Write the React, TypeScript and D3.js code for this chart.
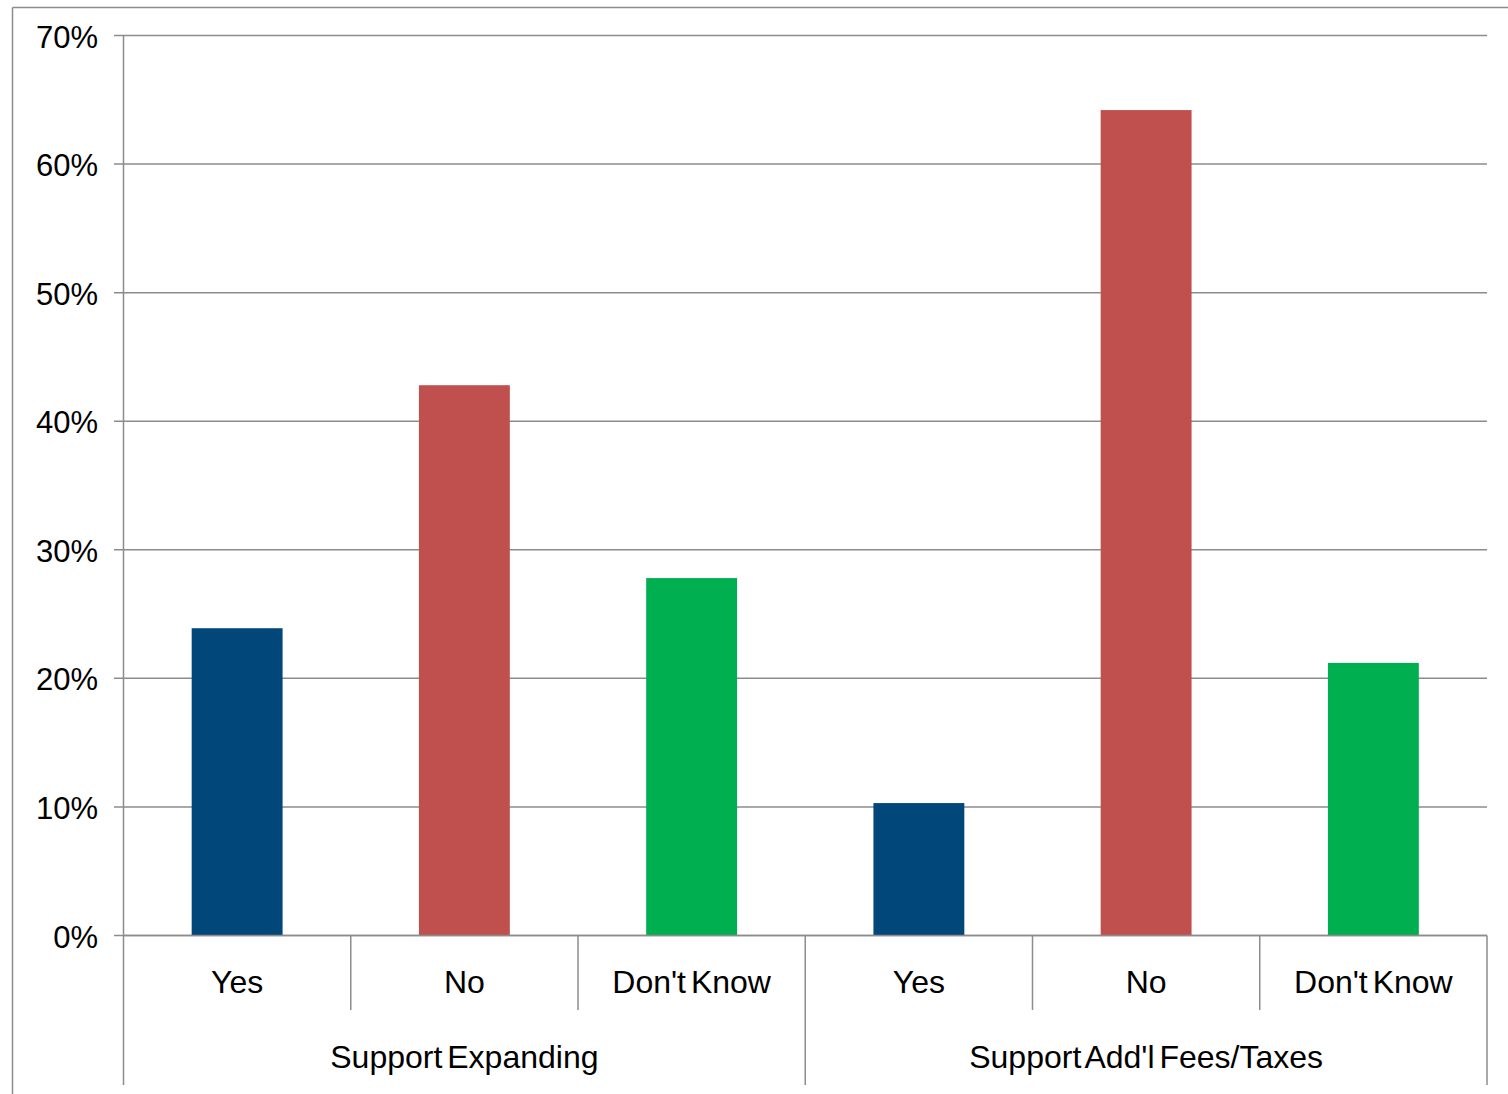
import React from "react";
import * as d3 from "d3";

const groups = ["Support Expanding", "Support Add'l Fees/Taxes"];
const answers = ["Yes", "No", "Don't Know"];
const expandingValues = [23.9, 42.8, 27.8];
const feesValues = [10.3, 64.2, 21.2];
const answerColors = ["#02477A", "#C0504D", "#00B050"];
const yTicks = [0, 10, 20, 30, 40, 50, 60, 70];

const W = 1508;
const H = 1094;
const left = 123.5;
const right = 1487;
const top = 35.5;
const bottom = 935.5;

export default function App() {
  const rows = groups.flatMap((g, gi) =>
    answers.map((a, ai) => ({
      key: `${gi}-${ai}`,
      group: g,
      answer: a,
      value: (gi === 0 ? expandingValues : feesValues)[ai],
      color: answerColors[ai],
    }))
  );

  const y = d3.scaleLinear().domain([0, 70]).range([bottom, top]);
  const x = d3
    .scaleBand<string>()
    .domain(rows.map((r) => r.key))
    .range([left, right])
    .paddingInner(0.6)
    .paddingOuter(0.3);
  const slot = d3.scaleBand<string>().domain(rows.map((r) => r.key)).range([left, right]);
  const gx = d3.scaleBand<string>().domain(groups).range([left, right]);

  const grid = "#8C8C8C";
  const font = "'Liberation Sans', Arial, sans-serif";

  return (
    <svg
      width={W}
      height={H}
      style={{ position: "absolute", left: 0, top: 0, background: "#fff" }}
      fontFamily={font}
    >
      {/* outer chart frame */}
      <line x1={12.5} x2={W} y1={7.5} y2={7.5} stroke={grid} strokeWidth={1.5} />
      <line x1={12.5} x2={12.5} y1={7.5} y2={H} stroke={grid} strokeWidth={1.5} />

      {/* gridlines and y ticks */}
      {yTicks.map((t) => (
        <g key={t}>
          <line x1={114} x2={right} y1={y(t)} y2={y(t)} stroke={grid} strokeWidth={1.5} />
          <text x={98} y={y(t) + 12} textAnchor="end" fontSize={31} fill="#000">
            {t}%
          </text>
        </g>
      ))}

      {/* bars */}
      {rows.map((r) => (
        <rect
          key={r.key}
          x={x(r.key)}
          width={x.bandwidth()}
          y={y(r.value)}
          height={bottom - y(r.value)}
          fill={r.color}
        />
      ))}

      {/* axes */}
      <line x1={left} x2={left} y1={top} y2={1085} stroke={grid} strokeWidth={1.5} />
      <line x1={left} x2={right} y1={bottom} y2={bottom} stroke={grid} strokeWidth={1.5} />

      {/* category separators */}
      {rows.slice(1).map((r, i) => {
        const xs = slot(r.key)!;
        const isGroupEdge = (i + 1) % answers.length === 0;
        return (
          <line
            key={r.key}
            x1={xs}
            x2={xs}
            y1={bottom}
            y2={isGroupEdge ? 1085 : 1010}
            stroke={grid}
            strokeWidth={1.5}
          />
        );
      })}
      <line x1={right} x2={right} y1={bottom} y2={1085} stroke={grid} strokeWidth={1.5} />

      {/* category labels */}
      {rows.map((r) => (
        <text
          key={r.key}
          x={slot(r.key)! + slot.bandwidth() / 2}
          y={993}
          textAnchor="middle"
          fontSize={32}
          wordSpacing={-4}
          fill="#000"
        >
          {r.answer}
        </text>
      ))}

      {/* group labels */}
      {groups.map((g) => (
        <text
          key={g}
          x={gx(g)! + gx.bandwidth() / 2}
          y={1068}
          textAnchor="middle"
          fontSize={32}
          wordSpacing={-4}
          fill="#000"
        >
          {g}
        </text>
      ))}
    </svg>
  );
}
